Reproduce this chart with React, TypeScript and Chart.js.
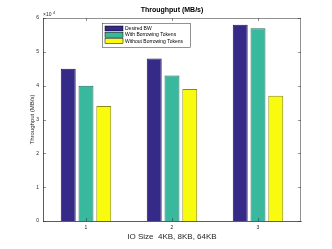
import React, { useEffect, useRef } from "react";
import { Chart, registerables } from "chart.js";

Chart.register(...registerables);

const categories = ["1", "2", "3"];
const desiredBW = [45000, 48000, 58000];
const withBorrowing = [40000, 43000, 57000];
const withoutBorrowing = [34000, 39000, 37000];
const seriesLabels = ["Desired BW", "With Borrowing Tokens", "Without Borrowing Tokens"];
const seriesColors = ["#352a87", "#38b99e", "#f9fb0e"];
const seriesBorders = ["#1c1650", "#1f6b5a", "#8a8a10"];
const yTicks = [0, 10000, 20000, 30000, 40000, 50000, 60000];
const xTitle = "IO Size  4KB, 8KB, 64KB";
const yTitle = "Throughput (MB/s)";
const chartTitle = "Throughput (MB/s)";

const FONT = "'Liberation Sans', Arial, Helvetica, sans-serif";

const decorPlugin = {
  id: "decor",
  afterDraw(chart: any) {
    const ctx = chart.ctx;
    const a = chart.chartArea;
    const xs = chart.scales.x;
    const ys = chart.scales.y;
    ctx.save();
    // box
    ctx.strokeStyle = "#262626";
    ctx.lineWidth = 0.5;
    ctx.strokeRect(a.left + 0.5, a.top + 0.5, a.right - a.left - 1, a.bottom - a.top);
    // inward ticks
    ctx.beginPath();
    yTicks.forEach((v) => {
      const y = Math.round(ys.getPixelForValue(v)) + 0.5;
      ctx.moveTo(a.left, y);
      ctx.lineTo(a.left + 3, y);
      ctx.moveTo(a.right, y);
      ctx.lineTo(a.right - 3, y);
    });
    categories.forEach((_, i) => {
      const x = Math.round(xs.getPixelForValue(i)) + 0.5;
      ctx.moveTo(x, a.bottom);
      ctx.lineTo(x, a.bottom - 3);
      ctx.moveTo(x, a.top);
      ctx.lineTo(x, a.top + 3);
    });
    ctx.stroke();

    // title
    ctx.fillStyle = "#000";
    ctx.font = `bold 7px ${FONT}`;
    ctx.textAlign = "center";
    ctx.textBaseline = "middle";
    ctx.fillText(chartTitle, (a.left + a.right) / 2, 10);

    // axis titles
    ctx.fillStyle = "#262626";
    ctx.font = `8px ${FONT}`;
    ctx.fillText(xTitle, (a.left + a.right) / 2, 237);
    ctx.save();
    ctx.translate(32, (a.top + a.bottom) / 2);
    ctx.rotate(-Math.PI / 2);
    ctx.font = `6px ${FONT}`;
    ctx.fillText(yTitle, 0, 0);
    ctx.restore();

    // exponent
    ctx.fillStyle = "#262626";
    ctx.font = `5px ${FONT}`;
    ctx.textAlign = "left";
    ctx.textBaseline = "alphabetic";
    ctx.fillText("\u00d710", a.left, a.top - 2);
    ctx.font = `4px ${FONT}`;
    ctx.fillText("4", a.left + 10, a.top - 4.5);

    // legend
    const lx = 102, ly = 23, lw = 88, lh = 24;
    ctx.fillStyle = "#fff";
    ctx.fillRect(lx, ly, lw, lh);
    ctx.strokeStyle = "#262626";
    ctx.lineWidth = 0.5;
    ctx.strokeRect(lx + 0.5, ly + 0.5, lw, lh);
    seriesLabels.forEach((label, i) => {
      const ry = ly + 3 + i * 6.3;
      ctx.fillStyle = seriesColors[i];
      ctx.fillRect(lx + 3, ry, 18, 5);
      ctx.strokeStyle = "#000";
      ctx.strokeRect(lx + 3, ry, 18, 5);
      ctx.fillStyle = "#000";
      ctx.font = `5px ${FONT}`;
      ctx.textAlign = "left";
      ctx.textBaseline = "middle";
      ctx.fillText(label, lx + 23, ry + 2.7);
    });
    ctx.restore();
  },
};

export default function App() {
  const ref = useRef<HTMLCanvasElement | null>(null);
  useEffect(() => {
    document.body.style.margin = "0";
    const datasets = [desiredBW, withBorrowing, withoutBorrowing].map((d, i) => ({
      label: seriesLabels[i],
      data: d,
      backgroundColor: seriesColors[i],
      borderColor: seriesBorders[i],
      borderWidth: 1,
      categoryPercentage: 0.62,
      barPercentage: 0.84,
    }));
    const chart = new Chart(ref.current!, {
      type: "bar",
      data: { labels: categories, datasets },
      options: {
        animation: false,
        responsive: false,
        maintainAspectRatio: false,
        layout: { padding: { left: 0, right: 31, top: 18, bottom: 0 } },
        plugins: { legend: { display: false }, tooltip: { enabled: false }, title: { display: false } },
        scales: {
          x: {
            offset: true,
            grid: { display: false, drawTicks: false },
            border: { display: true, color: "#262626", width: 0.5 },
            ticks: { color: "#262626", font: { size: 5, family: FONT }, padding: 4 },
            afterFit: (s: any) => {
              s.height = 28;
            },
          },
          y: {
            min: 0,
            max: 60000,
            afterBuildTicks: (s: any) => {
              s.ticks = yTicks.map((v) => ({ value: v }));
            },
            grid: { display: false, drawTicks: false },
            border: { display: true, color: "#262626", width: 0.5 },
            ticks: {
              color: "#262626",
              font: { size: 5, family: FONT },
              padding: 4,
              callback: (v: any) => String(Number(v) / 10000),
            },
            afterFit: (s: any) => {
              s.width = 43;
            },
          },
        },
      },
      plugins: [decorPlugin],
    });
    return () => chart.destroy();
  }, []);
  return (
    <div style={{ position: "absolute", left: 0, top: 0, width: 332, height: 249 }}>
      <canvas ref={ref} width={332} height={249} style={{ width: 332, height: 249 }} />
    </div>
  );
}
